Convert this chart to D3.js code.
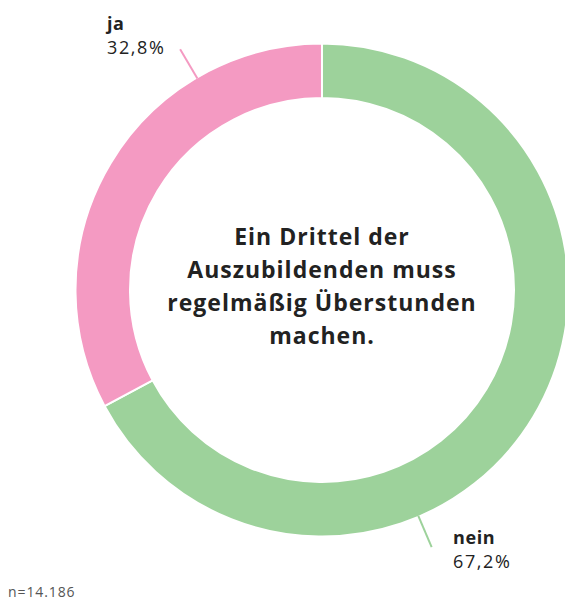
<!DOCTYPE html>
<html>
<head>
<meta charset="utf-8">
<script src="https://cdn.jsdelivr.net/npm/d3@7"></script>
<style>
  body { margin: 0; background: #fff; }
  svg { display: block; font-family: "Open Sans", Lato, sans-serif; }
</style>
</head>
<body>
<div id="chart"></div>
<script>
var labels = ["nein", "ja"];
var values = [67.2, 32.8];
var valueTexts = ["67,2%", "32,8%"];
var centerLines = ["Ein Drittel der", "Auszubildenden muss", "regelmäßig Überstunden", "machen."];
var sampleNote = "n=14.186";

var colors = { nein: "#9dd29b", ja: "#f49ac2" };
// angle (degrees, clockwise from top) where each leader line sits
var leaderAngle = { nein: 156.9, ja: 329.5 };

var width = 565, height = 602;
var cx = 322, cy = 290, outerR = 246.5, innerR = 192;

var svg = d3.select("#chart")
    .append("svg")
    .attr("width", width)
    .attr("height", height);

var g = svg.append("g")
    .attr("transform", "translate(" + cx + "," + cy + ")");

var data = labels.map(function (l, i) { return { label: l, value: values[i], text: valueTexts[i] }; });

var pie = d3.pie()
    .sort(null)
    .value(function (d) { return d.value; });

var arc = d3.arc()
    .innerRadius(innerR)
    .outerRadius(outerR);

g.selectAll("path.slice")
    .data(pie(data))
    .enter()
    .append("path")
    .attr("class", "slice")
    .attr("d", arc)
    .attr("fill", function (d) { return colors[d.data.label]; })
    .attr("stroke", "#fff")
    .attr("stroke-width", 2);

// leader lines
function polar(angleDeg, r) {
    var a = angleDeg * Math.PI / 180;
    return [Math.sin(a) * r, -Math.cos(a) * r];
}

data.forEach(function (d) {
    var p0 = polar(leaderAngle[d.label], outerR - 1);
    var p1 = polar(leaderAngle[d.label], outerR + 33);
    g.append("line")
        .attr("x1", p0[0]).attr("y1", p0[1])
        .attr("x2", p1[0]).attr("y2", p1[1])
        .attr("stroke", colors[d.label])
        .attr("stroke-width", 2);
});

// slice labels
var labelPos = { ja: [107, 30], nein: [453, 544] };
data.forEach(function (d) {
    var t = svg.append("text")
        .attr("x", labelPos[d.label][0])
        .attr("y", labelPos[d.label][1])
        .attr("fill", "#222")
        .style("font-size", "18px");
    t.append("tspan")
        .attr("font-weight", "bold")
        .style("letter-spacing", "0.6px")
        .text(d.label);
    t.append("tspan")
        .attr("x", labelPos[d.label][0])
        .attr("dy", 23.5)
        .style("letter-spacing", "1.6px")
        .text(d.text);
});

// center text
var ct = g.append("text")
    .attr("text-anchor", "middle")
    .attr("fill", "#222")
    .attr("font-weight", "bold")
    .style("font-size", "23px")
    .style("letter-spacing", "1px");
centerLines.forEach(function (line, i) {
    ct.append("tspan")
        .attr("x", 0)
        .attr("y", -45 + i * 33)
        .text(line);
});

svg.append("text")
    .attr("x", 8)
    .attr("y", 597)
    .attr("fill", "#555")
    .style("font-size", "14px")
    .style("letter-spacing", "0.9px")
    .text(sampleNote);
</script>
</body>
</html>
